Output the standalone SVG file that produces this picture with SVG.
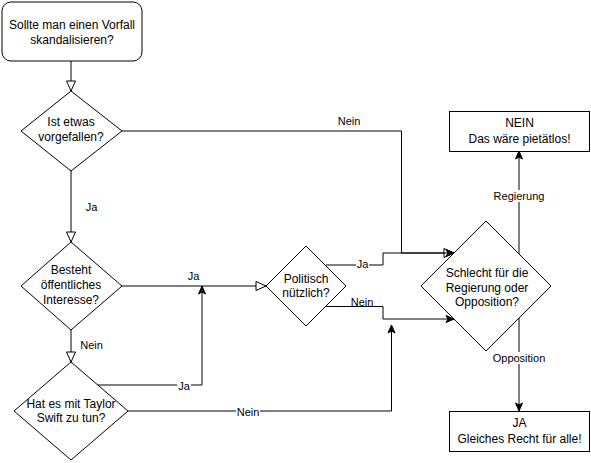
<svg xmlns="http://www.w3.org/2000/svg" width="591" height="463" viewBox="0 0 591 463">
<style>
.n{fill:#fff;stroke:#000;stroke-width:1}
.t{font-family:"Liberation Sans",Arial,sans-serif;font-size:12px;fill:#000;text-anchor:middle}
.l{font-family:"Liberation Sans",Arial,sans-serif;font-size:11px;fill:#000;text-anchor:middle}
.e{fill:none;stroke:#000;stroke-width:1}
.bg{fill:#fff}
</style>
<defs>
<marker id="open" markerUnits="userSpaceOnUse" markerWidth="12" markerHeight="11" refX="10" refY="4.5" orient="auto" overflow="visible">
<path d="M0,0 L10,4.5 L0,9 Z" fill="#fff" stroke="#000" stroke-width="1"/>
</marker>
<marker id="fill" markerUnits="userSpaceOnUse" markerWidth="10" markerHeight="8" refX="8" refY="3.5" orient="auto" overflow="visible">
<path d="M0,0 L8,3.5 L0,7 L2,3.5 Z" fill="#000" stroke="#000" stroke-width="1"/>
</marker>
</defs>
<rect width="591" height="463" fill="#fff"/>
<g id="connectors">
<path class="e" d="M71,61 V91" marker-end="url(#open)"/>
<path class="e" d="M71,171 V242" marker-end="url(#open)"/>
<path class="e" d="M71,330 V362" marker-end="url(#open)"/>
<path class="e" d="M122,286 H266" marker-end="url(#open)"/>
<path class="e" d="M98,385 H202 V286" marker-end="url(#fill)"/>
<path class="e" d="M128,411 H391.5 V325" marker-end="url(#fill)"/>
<path class="e" d="M122,131 H401.5 V253 H454" marker-end="url(#open)"/>
<path class="e" d="M326,265 H383 V253 H454" marker-end="url(#fill)"/>
<path class="e" d="M326,306.5 H383 V319 H454" marker-end="url(#fill)"/>
<path class="e" d="M519,254 V151" marker-end="url(#fill)"/>
<path class="e" d="M519,318 V411" marker-end="url(#fill)"/>
<text class="l" x="349" y="125">Nein</text>
<text class="l" x="91.5" y="211">Ja</text>
<text class="l" x="91.5" y="349">Nein</text>
<text class="l" x="193.5" y="280">Ja</text>
<rect class="bg" x="177" y="381" width="14" height="11"/>
<text class="l" x="184" y="390">Ja</text>
<rect class="bg" x="236" y="407" width="24" height="11"/>
<text class="l" x="248" y="416">Nein</text>
<rect class="bg" x="356" y="259" width="13" height="11"/>
<text class="l" x="362.5" y="268">Ja</text>
<text class="l" x="362" y="306">Nein</text>
<rect class="bg" x="492" y="190" width="54" height="12"/>
<text class="l" x="519" y="200">Regierung</text>
<rect class="bg" x="492" y="352" width="54" height="12"/>
<text class="l" x="519" y="362">Opposition</text>
</g>
<g id="start">
<rect class="n" x="2" y="2" width="140" height="59" rx="9"/>
<text class="t" x="72" y="29">Sollte man einen Vorfall</text>
<text class="t" x="72" y="44">skandalisieren?</text>
</g>
<g id="vorgefallen">
<path class="n" d="M71,91 L122,131 L71,171 L21,131 Z"/>
<text class="t" x="71" y="126">Ist etwas</text>
<text class="t" x="71" y="141">vorgefallen?</text>
</g>
<g id="interesse">
<path class="n" d="M71,242 L122,286 L71,330 L21,286 Z"/>
<text class="t" x="71" y="274">Besteht</text>
<text class="t" x="71" y="289">öffentliches</text>
<text class="t" x="71" y="304">Interesse?</text>
</g>
<g id="taylor">
<path class="n" d="M71,362 L128,411 L71,460 L14,411 Z"/>
<text class="t" x="71" y="408">Hat es mit Taylor</text>
<text class="t" x="71" y="422">Swift zu tun?</text>
</g>
<g id="politisch">
<path class="n" d="M306,246 L346,286 L306,326 L266,286 Z"/>
<text class="t" x="306" y="283">Politisch</text>
<text class="t" x="306" y="297">nützlich?</text>
</g>
<g id="schlecht">
<path class="n" d="M486,221 L551,286 L486,351 L421,286 Z"/>
<text class="t" x="487" y="277">Schlecht für die</text>
<text class="t" x="487" y="291.5">Regierung oder</text>
<text class="t" x="487" y="306">Opposition?</text>
</g>
<g id="nein">
<rect class="n" x="449.5" y="111.5" width="140" height="40"/>
<text class="t" x="519.5" y="127">NEIN</text>
<text class="t" x="519.5" y="143">Das wäre pietätlos!</text>
</g>
<g id="ja">
<rect class="n" x="449.5" y="411.5" width="140" height="40"/>
<text class="t" x="519.5" y="427">JA</text>
<text class="t" x="519.5" y="443">Gleiches Recht für alle!</text>
</g>
</svg>
